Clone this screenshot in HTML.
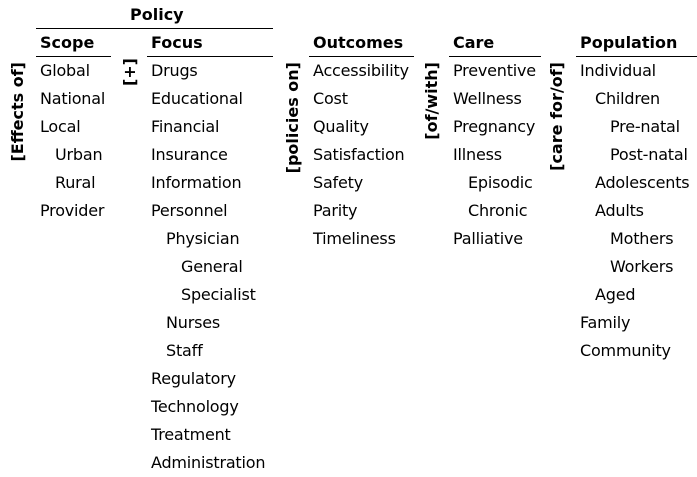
<!DOCTYPE html>
<html><head><style>
body{margin:0;width:697px;height:477px;background:#fff;position:relative;font-family:"DejaVu Sans","Liberation Sans",sans-serif;color:#000;overflow:hidden}
.t{position:absolute;font-size:16px;line-height:28px;white-space:nowrap;letter-spacing:-0.2px}
.h{position:absolute;font-size:16px;font-weight:bold;white-space:nowrap;line-height:20px}
.l{position:absolute;height:1px;background:#000}
.v{position:absolute;writing-mode:vertical-rl;transform:rotate(180deg);font-weight:bold;font-size:16px;line-height:20px;white-space:nowrap}
.c div{height:28px}
</style></head><body>
<div class="h" style="left:130px;top:5px">Policy</div>
<div class="l" style="left:36px;top:28px;width:237px"></div>
<div class="h" style="left:40px;top:33px">Scope</div>
<div class="h" style="left:151px;top:33px">Focus</div>
<div class="h" style="left:313px;top:33px">Outcomes</div>
<div class="h" style="left:453px;top:33px">Care</div>
<div class="h" style="left:580px;top:33px">Population</div>
<div class="l" style="left:36px;top:56px;width:75px"></div>
<div class="l" style="left:147px;top:56px;width:126px"></div>
<div class="l" style="left:309px;top:56px;width:105px"></div>
<div class="l" style="left:449px;top:56px;width:92px"></div>
<div class="l" style="left:576px;top:56px;width:121px"></div>
<div class="v" style="left:8px;top:62px">[Effects of]</div>
<div class="v" style="left:120px;top:58px">[+]</div>
<div class="v" style="left:283px;top:62px">[policies on]</div>
<div class="v" style="left:422px;top:62px">[of/with]</div>
<div class="v" style="left:547px;top:62px">[care for/of]</div>
<div class="t c" style="left:40px;top:57px"><div>Global</div><div>National</div><div>Local</div><div style="padding-left:15px">Urban</div><div style="padding-left:15px">Rural</div><div>Provider</div></div>
<div class="t c" style="left:151px;top:57px"><div>Drugs</div><div>Educational</div><div>Financial</div><div>Insurance</div><div>Information</div><div>Personnel</div><div style="padding-left:15px">Physician</div><div style="padding-left:30px">General</div><div style="padding-left:30px">Specialist</div><div style="padding-left:15px">Nurses</div><div style="padding-left:15px">Staff</div><div>Regulatory</div><div>Technology</div><div>Treatment</div><div>Administration</div></div>
<div class="t c" style="left:313px;top:57px"><div>Accessibility</div><div>Cost</div><div>Quality</div><div>Satisfaction</div><div>Safety</div><div>Parity</div><div>Timeliness</div></div>
<div class="t c" style="left:453px;top:57px"><div>Preventive</div><div>Wellness</div><div>Pregnancy</div><div>Illness</div><div style="padding-left:15px">Episodic</div><div style="padding-left:15px">Chronic</div><div>Palliative</div></div>
<div class="t c" style="left:580px;top:57px"><div>Individual</div><div style="padding-left:15px">Children</div><div style="padding-left:30px">Pre-natal</div><div style="padding-left:30px">Post-natal</div><div style="padding-left:15px">Adolescents</div><div style="padding-left:15px">Adults</div><div style="padding-left:30px">Mothers</div><div style="padding-left:30px">Workers</div><div style="padding-left:15px">Aged</div><div>Family</div><div>Community</div></div>
</body></html>
